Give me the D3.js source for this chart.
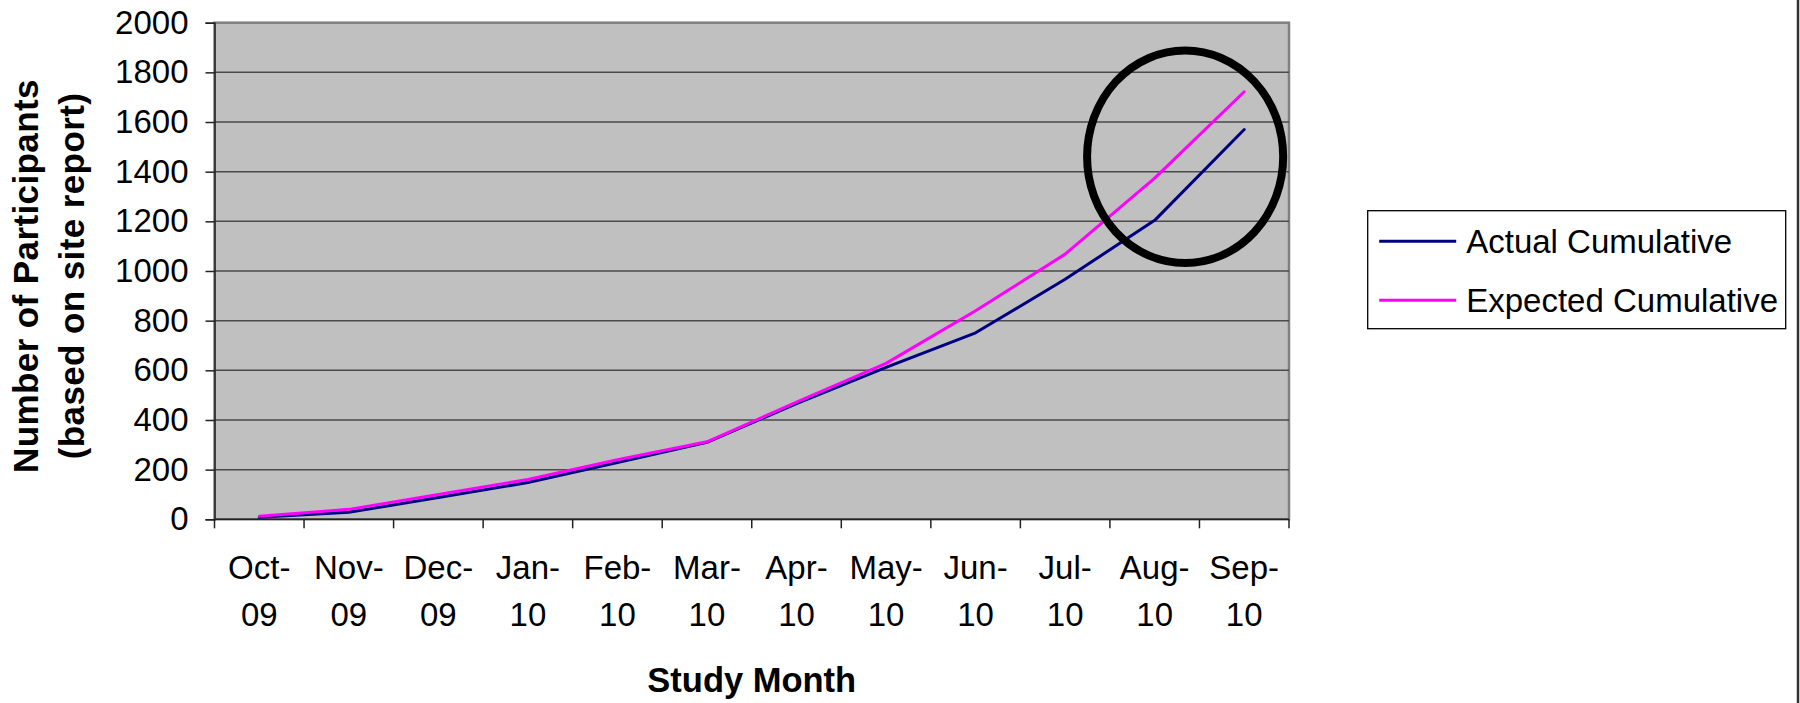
<!DOCTYPE html>
<html>
<head>
<meta charset="utf-8">
<script src="https://cdn.jsdelivr.net/npm/d3@7"></script>
<style>
  body { margin: 0; background: #fff; }
  svg { display: block; font-family: "Liberation Sans", Arial, sans-serif; }
</style>
</head>
<body>
<div id="chart"></div>
<script>
// Cumulative participants: actual vs expected, by study month

const months = ["Oct-09", "Nov-09", "Dec-09", "Jan-10", "Feb-10", "Mar-10",
                "Apr-10", "May-10", "Jun-10", "Jul-10", "Aug-10", "Sep-10"];
const actualCumulative   = [8, 28, 88, 148, 229, 310, 466, 612, 751, 967, 1204, 1570];
const expectedCumulative = [12, 40, 100, 160, 240, 312, 472, 628, 840, 1068, 1374, 1722];
const yTicks = [0, 200, 400, 600, 800, 1000, 1200, 1400, 1600, 1800, 2000];
const seriesNames  = ["Actual Cumulative", "Expected Cumulative"];
const seriesColors = ["#000080", "#ff00ff"];

const width = 1800;
const height = 703;
const plot = { left: 214.5, right: 1289, top: 22.7, bottom: 519.3 };

const svg = d3.select("#chart")
  .append("svg")
  .attr("width", width)
  .attr("height", height);

const x = d3.scaleBand()
  .domain(months)
  .range([plot.left, plot.right])
  .padding(0);

const y = d3.scaleLinear()
  .domain([0, 2000])
  .range([plot.bottom, plot.top]);

const bw = x.bandwidth();
const cx = m => x(m) + bw / 2;

// Fond gris de la zone de tracé
svg.append("rect")
  .attr("x", plot.left)
  .attr("y", plot.top)
  .attr("width", plot.right - plot.left)
  .attr("height", plot.bottom - plot.top)
  .attr("fill", "#c0c0c0")
  .attr("stroke", "#808080")
  .attr("stroke-width", 2.5);

// Grille horizontale
svg.append("g")
  .selectAll("line")
  .data(yTicks.filter(d => d > 0 && d < 2000))
  .join("line")
  .attr("x1", plot.left)
  .attr("x2", plot.right)
  .attr("y1", d => y(d))
  .attr("y2", d => y(d))
  .attr("stroke", "#4a4a4a")
  .attr("stroke-width", 1.5);

// Axe Y
const yAxis = svg.append("g")
  .attr("transform", `translate(${plot.left},0)`)
  .call(d3.axisLeft(y).tickValues(yTicks).tickFormat(d3.format("d")).tickSize(9).tickPadding(17));
yAxis.select(".domain").attr("stroke", "#222").attr("stroke-width", 1.5);
yAxis.selectAll(".tick line").attr("stroke", "#222").attr("stroke-width", 1.5);
yAxis.selectAll("text")
  .attr("fill", "#000")
  .style("font-size", "33px")
  .style("font-family", "'Liberation Sans', Arial, sans-serif");

// Axe X : ligne + graduations entre catégories
svg.append("line")
  .attr("x1", plot.left)
  .attr("x2", plot.right)
  .attr("y1", y(0))
  .attr("y2", y(0))
  .attr("stroke", "#222")
  .attr("stroke-width", 1.5);

svg.append("g")
  .selectAll("line")
  .data(months.map(m => x(m)).concat([plot.right]))
  .join("line")
  .attr("x1", d => d)
  .attr("x2", d => d)
  .attr("y1", y(0))
  .attr("y2", y(0) + 9)
  .attr("stroke", "#222")
  .attr("stroke-width", 1.5);

// Libellés des mois sur deux lignes
const xLabels = svg.append("g")
  .selectAll("text")
  .data(months)
  .join("text")
  .attr("text-anchor", "middle")
  .style("font-size", "33px")
  .attr("fill", "#000");
xLabels.append("tspan")
  .attr("x", d => cx(d))
  .attr("y", y(0) + 60)
  .text(d => d.split("-")[0] + "-");
xLabels.append("tspan")
  .attr("x", d => cx(d))
  .attr("y", y(0) + 107)
  .text(d => d.split("-")[1]);

// Titres d'axes
svg.append("text")
  .attr("x", (plot.left + plot.right) / 2)
  .attr("y", 692)
  .attr("text-anchor", "middle")
  .style("font-size", "34.5px")
  .style("font-weight", "bold")
  .text("Study Month");

const yTitle = svg.append("text")
  .attr("transform", `translate(0,${(plot.top + plot.bottom) / 2 + 5}) rotate(-90)`)
  .attr("text-anchor", "middle")
  .style("font-size", "35px")
  .style("font-weight", "bold")
  .style("letter-spacing", "0.4px");
yTitle.append("tspan").attr("x", 0).attr("y", 38).text("Number of Participants");
yTitle.append("tspan").attr("x", 0).attr("y", 84).text("(based on site report)");

// Courbes
const series = [actualCumulative, expectedCumulative].map((vals, i) => ({
  name: seriesNames[i],
  color: seriesColors[i],
  values: months.map((m, j) => ({ month: m, value: vals[j] }))
}));

const line = d3.line()
  .x(d => cx(d.month))
  .y(d => y(d.value));

svg.append("g")
  .selectAll("path")
  .data(series)
  .join("path")
  .attr("d", d => line(d.values))
  .attr("fill", "none")
  .attr("stroke", d => d.color)
  .attr("stroke-width", 3)
  .attr("stroke-linejoin", "round")
  .attr("stroke-linecap", "round");

// Cercle d'annotation autour de l'écart final
svg.append("ellipse")
  .attr("cx", x("Aug-10") + bw * 0.84)
  .attr("cy", y(1460))
  .attr("rx", bw * 1.095)
  .attr("ry", y(0) - y(428))
  .attr("fill", "none")
  .attr("stroke", "#000")
  .attr("stroke-width", 8);

// Légende
const legend = svg.append("g").attr("transform", "translate(1367.7,210.7)");
legend.append("rect")
  .attr("width", 418)
  .attr("height", 118)
  .attr("fill", "#fff")
  .attr("stroke", "#000")
  .attr("stroke-width", 1.3);

const items = legend.selectAll("g")
  .data(series)
  .join("g")
  .attr("transform", (d, i) => `translate(0,${30.5 + i * 59})`);
items.append("line")
  .attr("x1", 11.5)
  .attr("x2", 88.5)
  .attr("stroke", d => d.color)
  .attr("stroke-width", 3);
items.append("text")
  .attr("x", 98.5)
  .attr("y", 11.5)
  .style("font-size", "33px")
  .text(d => d.name);

// Bordure droite de la zone du graphique
svg.append("line")
  .attr("x1", 1798)
  .attr("x2", 1798)
  .attr("y1", 0)
  .attr("y2", height)
  .attr("stroke", "#333")
  .attr("stroke-width", 2.5);
</script>
</body>
</html>
